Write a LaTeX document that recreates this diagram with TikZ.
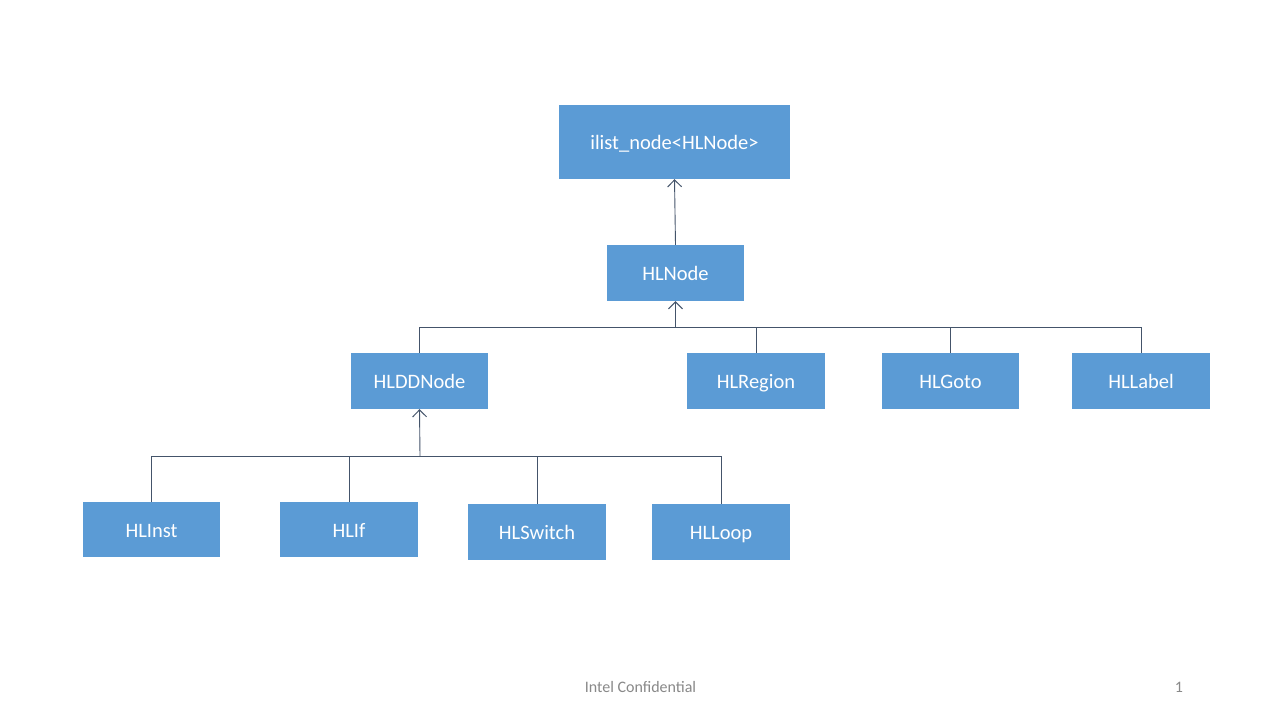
\documentclass[tikz,border=0pt]{standalone}
\usepackage{fontspec}
\setmainfont{Carlito}
\usetikzlibrary{arrows.meta}
\definecolor{boxblue}{HTML}{5B9BD5}
\definecolor{linkgray}{HTML}{44546A}
\definecolor{footgray}{HTML}{898989}
\begin{document}
\begin{tikzpicture}[x=1pt,y=-1pt,
  cls/.style={fill=boxblue,draw=none,text=white,font=\fontsize{20.5}{24}\selectfont,
    inner sep=0pt,text height=15.5pt,text depth=0.5pt,
    minimum width=137pt,minimum height=56pt,anchor=center},
  link/.style={draw=linkgray,line width=0.9pt},
  inherit/.style={link,-{Straight Barb[length=7pt,width=14pt,line width=1pt]}}]
\useasboundingbox (0,0) rectangle (1280,720);
\fill[white] (0,0) rectangle (1280,720);

% class boxes
\node[cls,minimum width=231pt,minimum height=74pt] (ilist) at (674.5,142) {ilist\_node<HLNode>};
\node[cls] (hlnode) at (675.5,273) {HLNode};
\node[cls] (ddnode) at (419.5,381) {HLDDNode};
\node[cls,minimum width=138pt] (region) at (756,381) {HLRegion};
\node[cls] (goto) at (950.5,381) {HLGoto};
\node[cls,minimum width=138pt] (label) at (1141,381) {HLLabel};
\node[cls,minimum height=55pt] (inst) at (151.5,529.5) {HLInst};
\node[cls,minimum width=138pt,minimum height=55pt] (hlif) at (349,529.5) {HLIf};
\node[cls,minimum width=138pt] (switch) at (537,532) {HLSwitch};
\node[cls,minimum width=138pt] (loop) at (721,532) {HLLoop};

% junction points of the two inheritance buses
\coordinate (busTop) at (675.5,327);
\coordinate (busLow) at (420,456);

% HLNode derives from ilist_node
\draw[inherit] (hlnode.north) -- (ilist.south);

% first level of subclasses
\draw[inherit] (busTop) -- (hlnode.south);
\draw[link] (ddnode.north) |- (busTop);
\draw[link] (region.north) |- (busTop);
\draw[link] (goto.north) |- (busTop);
\draw[link] (label.north) |- (busTop);

% subclasses of HLDDNode
\draw[inherit] (busLow) -- (ddnode.south);
\draw[link] (inst.north) |- (busLow);
\draw[link] (hlif.north) |- (busLow);
\draw[link] (switch.north) |- (busLow);
\draw[link] (loop.north) |- (busLow);

% footer
\node[text=footgray,font=\fontsize{16}{18}\selectfont] (foot) at (640.5,687) {Intel Confidential};
\node[text=footgray,font=\fontsize{16}{18}\selectfont] (page) at (1179,687) {1};
\end{tikzpicture}
\end{document}
